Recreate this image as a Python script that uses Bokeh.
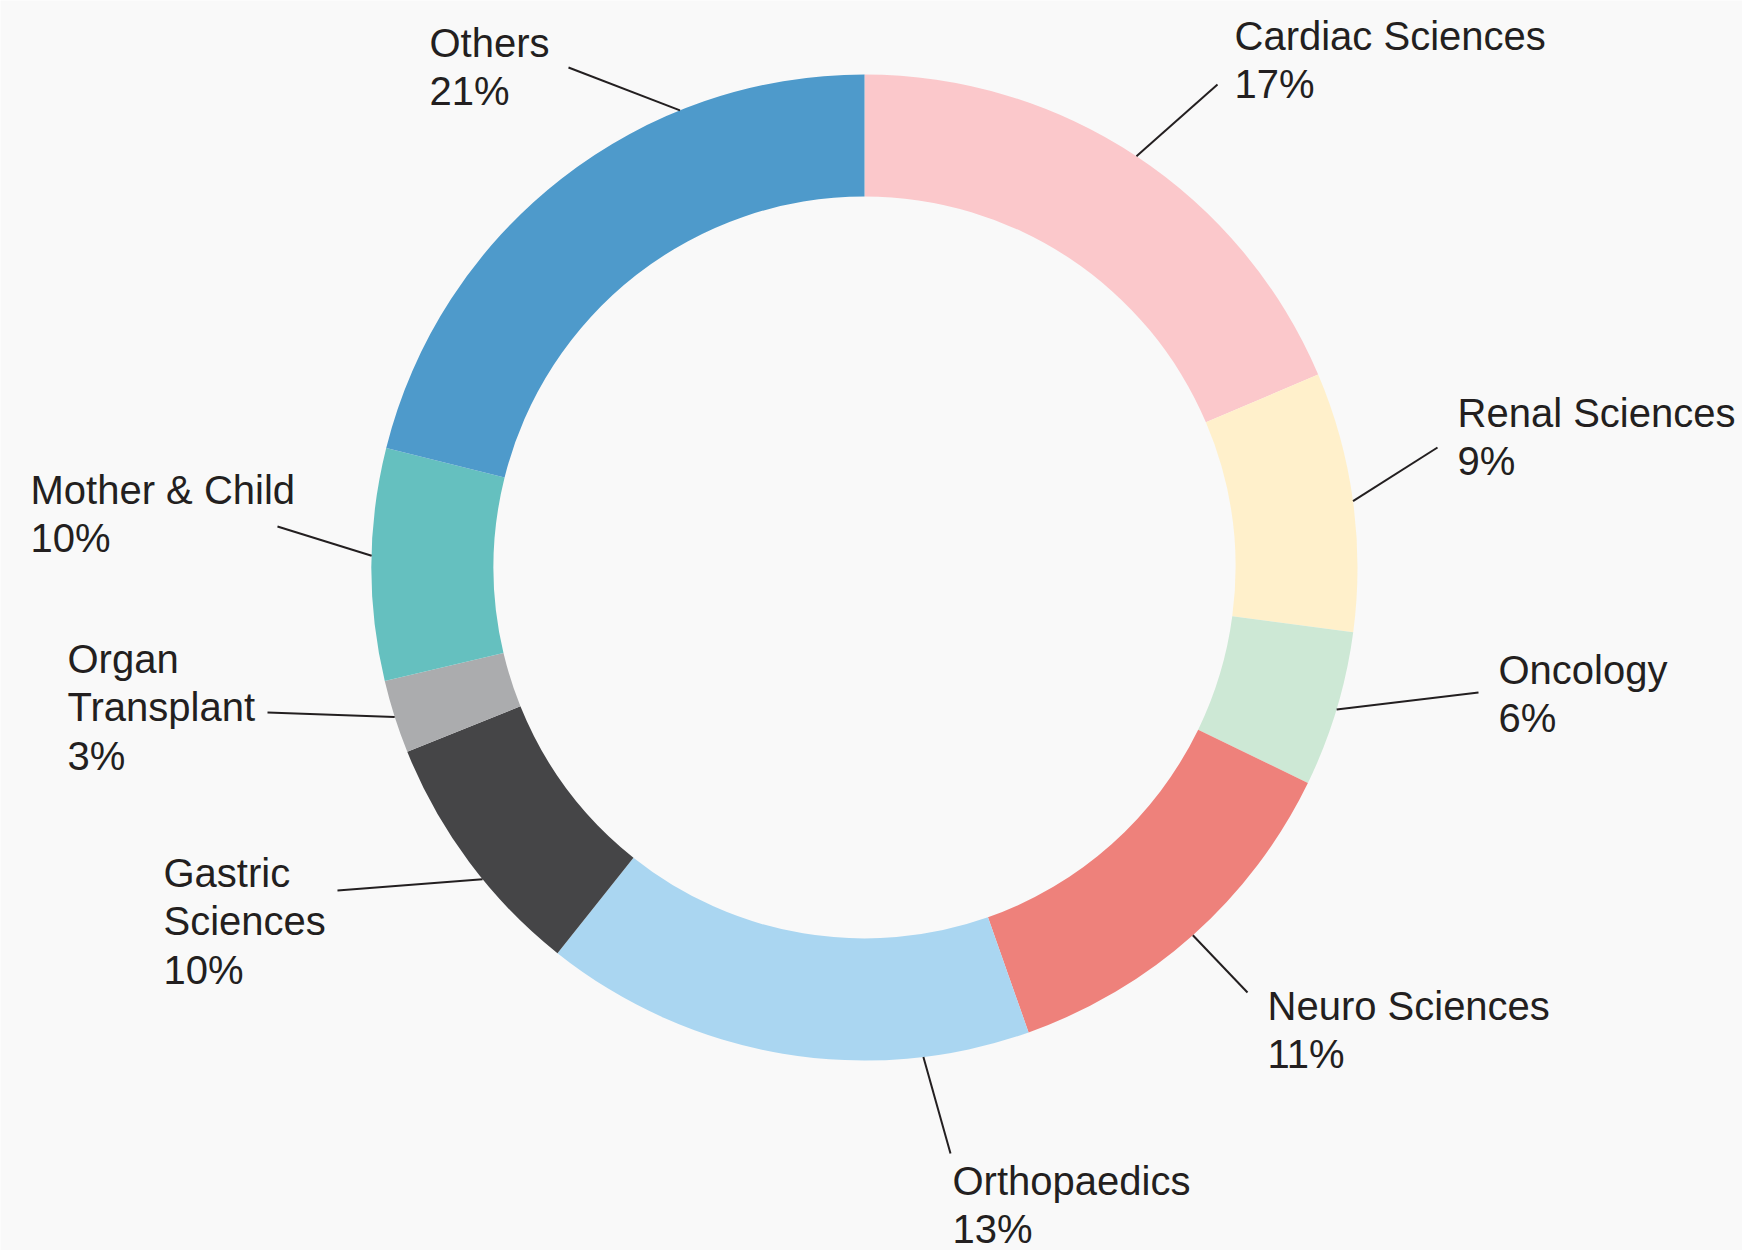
import math
from bokeh.plotting import figure
from bokeh.models import Range1d, ColumnDataSource
from bokeh.core.properties import value
from bokeh.embed import file_html
from bokeh.resources import INLINE

# ---- data ----
categories = ["Cardiac Sciences", "Renal Sciences", "Oncology", "Neuro Sciences",
              "Orthopaedics", "Gastric Sciences", "Organ Transplant",
              "Mother & Child", "Others"]
shares = [18.6, 8.5, 5.1, 12.4, 16.1, 8.2, 2.4, 7.6, 21.1]       # arc sizes
pct_labels = ["17%", "9%", "6%", "11%", "13%", "10%", "3%", "10%", "21%"]
label_lines = [["Cardiac Sciences"], ["Renal Sciences"], ["Oncology"], ["Neuro Sciences"],
               ["Orthopaedics"], ["Gastric", "Sciences"], ["Organ", "Transplant"],
               ["Mother & Child"], ["Others"]]
colors = ["#fbc8cb", "#fff0cb", "#cde8d5", "#ee817b", "#aad6f1",
          "#454547", "#abacae", "#65c0bf", "#4e9acb"]

# ---- layout (screen pixels) ----
W, H = 1742, 1250
CX, CY = 864, 567
R_OUT, R_IN = 493, 371
FONT = "Liberation Sans"
FS = 40
LH = 48.5
BASE_SHIFT = -15   # correction for renderer baseline placement
# text left / first baseline, leader outer end, leader angle offset (deg)
text_pos = [(1234, 50), (1457, 427), (1498, 684), (1267, 1020), (952, 1195),
            (163, 887), (67, 673), (30, 504), (429, 57)]
leader_out = [(1217, 84), (1437, 447), (1478, 692), (1247, 992), (950, 1153),
              (337, 890), (267, 712), (277, 526), (568, 67)]
leader_off = [0, 0, 0, 0, -16.4, -2.5, 0, 1.0, 16.0]

def sy(y):  # screen y -> data y
    return H - y

p = figure(width=W, height=H, output_backend="svg", toolbar_location=None,
           x_range=Range1d(0, W), y_range=Range1d(0, H),
           min_border=0, outline_line_color=None,
           background_fill_color="#f9f9f9", border_fill_color="#f9f9f9")
p.axis.visible = False
p.grid.visible = False

total = sum(shares)
starts, ends, mids = [], [], []
cum = 0.0
for s in shares:
    a0 = cum / total * 360.0
    cum += s
    a1 = cum / total * 360.0
    starts.append(math.radians(90 - a0))
    ends.append(math.radians(90 - a1))
    mids.append((a0 + a1) / 2)

src = ColumnDataSource(dict(x=[CX] * len(shares), y=[sy(CY)] * len(shares),
                            start=starts, end=ends, color=colors, name=categories))
p.annular_wedge(x="x", y="y", inner_radius=R_IN, outer_radius=R_OUT,
                start_angle="start", end_angle="end", direction="clock",
                fill_color="color", line_color=None, source=src)

# leaders
xs, ys = [], []
for i in range(len(categories)):
    ang = math.radians(mids[i] + leader_off[i])
    ix = CX + R_OUT * math.sin(ang)
    iy = CY - R_OUT * math.cos(ang)
    ox, oy = leader_out[i]
    xs.append([ox, ix])
    ys.append([sy(oy), sy(iy)])
p.multi_line(xs=xs, ys=ys, line_color="#231f20", line_width=2)

# labels
tx, ty, tt = [], [], []
for i in range(len(categories)):
    lines = label_lines[i] + [pct_labels[i]]
    x0, y0 = text_pos[i]
    for j, t in enumerate(lines):
        tx.append(x0)
        ty.append(sy(y0 + j * LH + BASE_SHIFT))
        tt.append(t)
p.text(x=tx, y=ty, text=tt, text_font=value(FONT), text_font_size=f"{FS}px",
       text_color="#231f20", text_align="left", text_baseline="alphabetic")

open("out.html", "w").write(file_html(p, INLINE))
